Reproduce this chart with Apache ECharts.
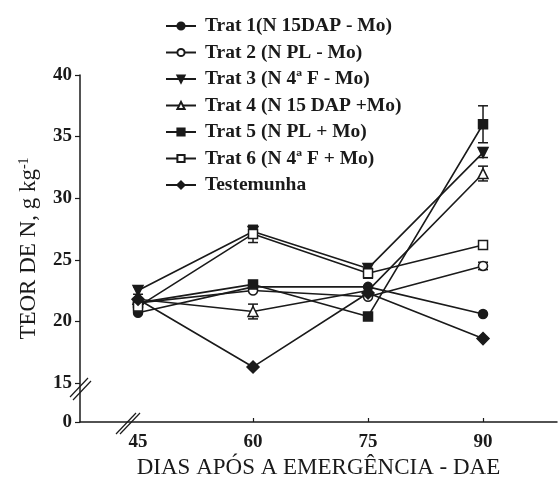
<!DOCTYPE html>
<html>
<head>
<meta charset="utf-8">
<script src="https://cdn.jsdelivr.net/npm/echarts@6/dist/echarts.min.js"></script>
<style>
html,body{margin:0;padding:0;background:#fff;}
#chart{width:558px;height:485px;}
</style>
</head>
<body>
<div id="chart"></div>
<script>
// ---- data ----
const days = [45, 60, 75, 90];
const yTicks = [15, 20, 25, 30, 35, 40];
const xTicks = [45, 60, 75, 90];
const names = ['Trat 1(N 15DAP - Mo)', 'Trat 2 (N PL - Mo)', 'Trat 3 (N 4\u00aa F - Mo)',
  'Trat 4 (N 15 DAP +Mo)', 'Trat 5 (N PL + Mo)', 'Trat 6 (N 4\u00aa F + Mo)', 'Testemunha'];
const trat1 = [20.7, 22.8, 22.8, 20.6];
const trat2 = [21.5, 22.5, 22.0, 24.5];
const trat3 = [22.5, 27.3, 24.3, 33.7];
const trat4 = [21.8, 20.8, 22.5, 32.0];
const trat5 = [21.5, 23.0, 20.4, 36.0];
const trat6 = [21.2, 27.1, 23.9, 26.2];
const testemunha = [21.8, 16.3, 22.3, 18.6];
const err1 = [0, 0, 0, 0];
const err2 = [0, 0, 0, 0.3];
const err3 = [0.3, 0, 0, 0.4];
const err4 = [0, 0.6, 0, 0.6];
const err5 = [0, 0.3, 0, 1.5];
const err6 = [0, 0.7, 0.4, 0];
const errT = [0, 0, 0, 0];

const values = [trat1, trat2, trat3, trat4, trat5, trat6, testemunha];
const errors = [err1, err2, err3, err4, err5, err6, errT];

// ---- styling ----
const INK = '#1a1a1a';
const yMin = 11.83;  // position of the "0" after the axis break
const triDown = 'path://M0,0 L10,0 L5,9 Z';
const symbols = [
  {symbol: 'circle', size: 9, fill: INK},
  {symbol: 'circle', size: 9, fill: '#fff'},
  {symbol: triDown, size: 10, fill: INK},
  {symbol: 'triangle', size: 10, fill: '#fff'},
  {symbol: 'rect', size: 9, fill: INK},
  {symbol: 'rect', size: 9, fill: '#fff'},
  {symbol: 'diamond', size: 12, fill: INK}
];

const series = [];
names.forEach((n, i) => {
  series.push({
    name: n, type: 'line', z: 3,
    data: days.map((d, j) => [d, values[i][j]]),
    symbol: symbols[i].symbol, symbolSize: symbols[i].size,
    showAllSymbol: true,
    lineStyle: {color: INK, width: 1.6},
    itemStyle: {color: symbols[i].fill, borderColor: INK, borderWidth: 1.5},
    emphasis: {disabled: true},
    animation: false
  });
  series.push({
    type: 'custom', z: 2, animation: false, silent: true,
    data: days.map((d, j) => [d, values[i][j], errors[i][j]]).filter(r => r[2] > 0),
    renderItem: function (params, api) {
      const x = api.value(0), y = api.value(1), e = api.value(2);
      const t = api.coord([x, y + e]), b = api.coord([x, y - e]);
      const w = 5;
      const st = {stroke: INK, lineWidth: 1.5};
      return {type: 'group', children: [
        {type: 'line', shape: {x1: t[0], y1: t[1], x2: b[0], y2: b[1]}, style: st},
        {type: 'line', shape: {x1: t[0] - w, y1: t[1], x2: t[0] + w, y2: t[1]}, style: st},
        {type: 'line', shape: {x1: b[0] - w, y1: b[1], x2: b[0] + w, y2: b[1]}, style: st}
      ]};
    }
  });
});

const chart = echarts.init(document.getElementById('chart'));
const serif = 'Liberation Serif, Times New Roman, serif';
chart.setOption({
  animation: false,
  backgroundColor: '#fff',
  grid: {left: 80, right: 1, top: 75, bottom: 63},
  legend: {
    data: names, orient: 'vertical', left: 165, top: 16, padding: 0,
    itemWidth: 30, itemHeight: 9, itemGap: 6.5,
    textStyle: {fontFamily: serif, fontWeight: 'bold', fontSize: 19.5, color: INK, lineHeight: 16, padding: [0, 0, 0, 4]},
    selectedMode: false
  },
  xAxis: {
    type: 'value', min: 37.43, max: 99.65,
    name: 'DIAS AP\u00d3S A EMERG\u00caNCIA - DAE', nameLocation: 'middle', nameGap: 32,
    nameTextStyle: {fontFamily: serif, fontSize: 23, color: INK},
    axisLine: {show: true, lineStyle: {color: INK, width: 1.5}},
    axisTick: {show: true, inside: true, length: 4, customValues: xTicks.slice(1), lineStyle: {color: INK, width: 1.2}},
    axisLabel: {customValues: xTicks, fontFamily: serif, fontWeight: 'bold', fontSize: 19, color: INK, margin: 11},
    splitLine: {show: false}
  },
  yAxis: {
    type: 'value', min: yMin, max: 40,
    name: 'TEOR DE N, g kg{sup|-1}', nameLocation: 'middle', nameGap: 39, nameRotate: 90,
    nameTextStyle: {fontFamily: serif, fontSize: 23, color: INK,
      rich: {sup: {fontFamily: serif, fontSize: 14, verticalAlign: 'top', color: INK, padding: [0, 0, 10, 0]}}},
    axisLine: {show: true, lineStyle: {color: INK, width: 1.5}},
    axisTick: {show: true, length: 5, customValues: [yMin].concat(yTicks), lineStyle: {color: INK, width: 1.2}},
    axisLabel: {customValues: [yMin].concat(yTicks), fontFamily: serif, fontWeight: 'bold', fontSize: 19, color: INK, margin: 8,
      formatter: v => (v < 12 ? '0' : String(Math.round(v)))},
    splitLine: {show: false}
  },
  graphic: [
    {type: 'line', shape: {x1: 70, y1: 397, x2: 88, y2: 378}, style: {stroke: INK, lineWidth: 1.2}},
    {type: 'line', shape: {x1: 73, y1: 400, x2: 91, y2: 381}, style: {stroke: INK, lineWidth: 1.2}},
    {type: 'line', shape: {x1: 116, y1: 434, x2: 136, y2: 413}, style: {stroke: INK, lineWidth: 1.2}},
    {type: 'line', shape: {x1: 120, y1: 434, x2: 140, y2: 413}, style: {stroke: INK, lineWidth: 1.2}}
  ],
  series: series
});
</script>
</body>
</html>
